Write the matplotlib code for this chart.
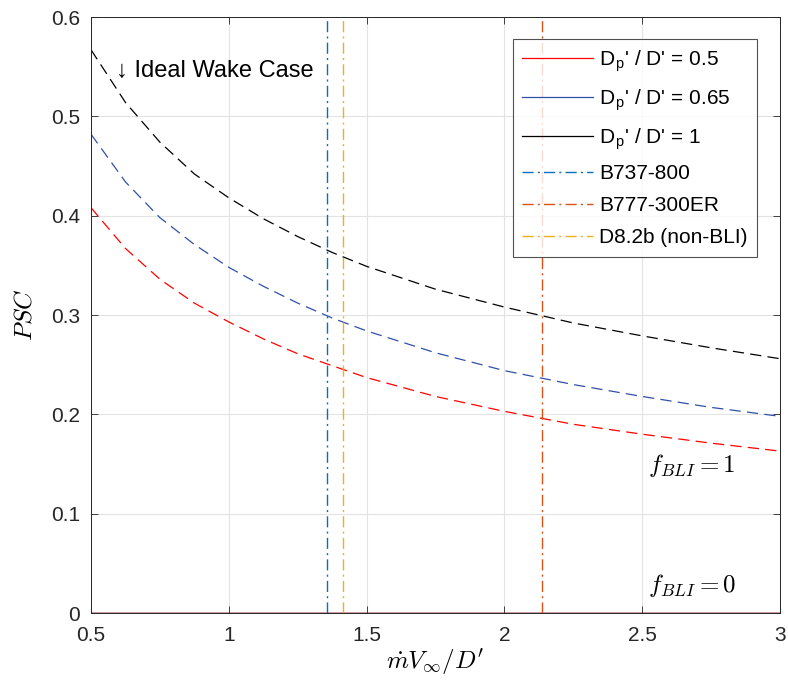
import numpy as np
import matplotlib
matplotlib.use('Agg')
import matplotlib.pyplot as plt

plt.rcParams['font.family'] = ['Liberation Sans', 'DejaVu Sans']
plt.rcParams['mathtext.fontset'] = 'cm'

# mass-flow / drag parameter
x_vals = [0.5, 0.625, 0.75, 0.875, 1.0, 1.125, 1.25, 1.375, 1.5,
          1.75, 2.0, 2.25, 2.5, 2.75, 3.0]

# PSC for f_BLI = 1, one series per propulsor-drag ratio
psc_050 = [0.408, 0.367, 0.336, 0.312, 0.293, 0.276, 0.261, 0.249, 0.237,
           0.218, 0.203, 0.190, 0.180, 0.171, 0.163]
psc_065 = [0.482, 0.434, 0.398, 0.371, 0.348, 0.329, 0.312, 0.297, 0.284,
           0.262, 0.244, 0.230, 0.218, 0.207, 0.198]
psc_100 = [0.567, 0.514, 0.474, 0.442, 0.418, 0.397, 0.379, 0.363, 0.349,
           0.326, 0.308, 0.292, 0.279, 0.267, 0.256]

ratio_labels = ["0.5", "0.65", "1"]

# aircraft operating points
aircraft = ["B737-800", "B777-300ER", "D8.2b (non-BLI)"]
aircraft_x = [1.355, 2.137, 1.415]

curve_colors = ['#ff0000', '#3050a8', '#000000']
aircraft_colors = ['#0072BD', '#D95319', '#EDB120']

fig = plt.figure(figsize=(7.88, 6.84), dpi=100)
ax = fig.add_axes([0.1155, 0.1038, 0.8743, 0.8713])

series = [psc_050, psc_065, psc_100]
for ys, c in zip(series, curve_colors):
    ax.plot(x_vals, ys, color=c, lw=0.9, dashes=(9, 5))

# f_BLI = 0 gives zero PSC for every ratio
zero = np.zeros(len(x_vals))
handles = []
for lab, c in zip(ratio_labels, curve_colors):
    h, = ax.plot(x_vals, zero, color=c, lw=0.9,
                 label="D$_\\mathregular{p}$' / D' = " + lab)
    handles.append(h)
# red drawn last so it sits on top at zero
ax.plot(x_vals, zero, color=curve_colors[0], lw=0.9)

for name, xv, c in zip(aircraft, aircraft_x, aircraft_colors):
    h = ax.axvline(xv, color=c, lw=1.0, dashes=(8, 3, 1.5, 3), label=name)
    handles.append(h)

ax.text(0.59, 0.546, "\u2193 Ideal Wake Case", fontsize=17, va='center', ha='left')
ax.text(2.52, 0.149, r"$f_{BLI} = 1$", fontsize=18, va='center')
ax.text(2.52, 0.028, r"$f_{BLI} = 0$", fontsize=18, va='center')

ax.set_xlim(0.5, 3)
ax.set_ylim(0, 0.6)
ax.set_xticks([0.5, 1, 1.5, 2, 2.5, 3])
ax.set_xticklabels(['0.5', '1', '1.5', '2', '2.5', '3'])
ax.set_yticks([0, 0.1, 0.2, 0.3, 0.4, 0.5, 0.6])
ax.set_yticklabels(['0', '0.1', '0.2', '0.3', '0.4', '0.5', '0.6'])
ax.tick_params(direction='in', labelsize=15, length=5, width=0.6,
               top=True, right=True, colors='#262626')
ax.tick_params(axis='x', pad=9)
ax.tick_params(axis='y', pad=8)
ax.grid(True, color='#e3e3e3', lw=0.8)
ax.set_axisbelow(True)
for s in ax.spines.values():
    s.set_color('#262626')
    s.set_linewidth(0.7)

ax.set_xlabel(r"$\dot{m}V_\infty/D'$", fontsize=18, labelpad=2)
ax.set_ylabel(r"$PSC$", fontsize=18, labelpad=10)

leg = ax.legend(handles=handles, loc='upper right', fontsize=15,
                frameon=True, fancybox=False, edgecolor='#262626',
                handlelength=3.4, handletextpad=0.3, borderpad=0.45,
                labelspacing=0.62, borderaxespad=0,
                bbox_to_anchor=(0.967, 0.963))
leg.get_frame().set_linewidth(0.8)

fig.savefig('out.png', dpi=100)
